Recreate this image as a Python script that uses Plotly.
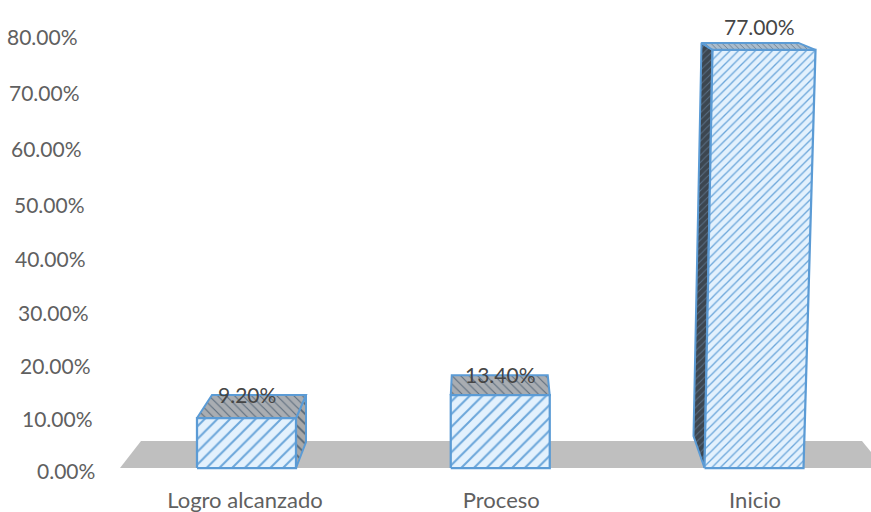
import plotly.graph_objects as go

# ---- data ----
categories = ["Logro alcanzado", "Proceso", "Inicio"]
values = [9.2, 13.4, 77.0]
y_ticks = [0, 10, 20, 30, 40, 50, 60, 70, 80]
y_tick_labels = ["0.00%", "10.00%", "20.00%", "30.00%", "40.00%", "50.00%", "60.00%", "70.00%", "80.00%"]

# ---- drawing style (pixels of the 871x512 canvas) ----
W, H = 871, 512
FONT = "Lato"
PX_PER_UNIT = 5.43
Y0_PX = 468
MARGIN_B = 27
STEP_PX = 253.75
X0_PX = 246.5
HALF_W = 49.5
# 3-D look: per bar, in pixels
top_left_tilt = [0, 0, 8]
top_right_tilt = [0, 0, 12]
back_left = [15, 1, -11]
back_right = [10, -2, -17]
back_up = [23, 20, 7]
side_drop = [26, 0, 32]
tick_right_px = [97, 95, 93, 91, 88, 87, 84, 82, 80]
tick_center_px = [470, 418, 365, 312, 258, 204, 148, 93, 37]
x_label_shift = [-0.006, 0.004, 0.004]
label_up = [24, 21, 23]
label_dx = [0, 0, 5]


def dx(px):
    return px / STEP_PX


def dy(px):
    return px / PX_PER_UNIT


EDGE = "#5b9bd5"
fig = go.Figure()

# floor
floor_h = dy(Y0_PX - 441)
floor_x = [dx(120 - X0_PX), dx(141 - X0_PX), dx(862 - X0_PX), dx(884 - X0_PX)]
floor_y = [0, floor_h, floor_h, 0]
fig.add_trace(go.Scatter(x=floor_x, y=floor_y, fill="toself", mode="none", fillcolor="#bfbfbf",
                         hoverinfo="skip", showlegend=False))


def poly(xs, ys, bg, fg, shape, size, sol, name, lw=2):
    fig.add_trace(go.Scatter(
        x=xs + xs[:1], y=ys + ys[:1], fill="toself", mode="lines",
        line=dict(color=EDGE, width=lw), fillcolor=bg,
        fillpattern=dict(shape=shape, bgcolor=bg, fgcolor=fg, size=size, solidity=sol, fgopacity=1),
        name=name, showlegend=False, hoverinfo="skip"))


for i, (cat, v) in enumerate(zip(categories, values)):
    L, R = i - dx(HALF_W), i + dx(HALF_W)
    tl, tr = L + dx(top_left_tilt[i]), R + dx(top_right_tilt[i])
    bl, br = tl + dx(back_left[i]), tr + dx(back_right[i])
    yb = v + dy(back_up[i])
    if i == 2:  # side on the left
        poly([L, tl, bl, L + dx(-11)], [0, v, yb, dy(side_drop[i])],
             "#3c4650", "#5a6f85", "/", 5, 0.2, cat + " lado", 2)
    elif i == 0:  # side on the right
        poly([R, tr, br, br], [0, v, yb, dy(side_drop[i])],
             "#a8a8a8", "#566878", "\\", 7, 0.25, cat + " lado", 2)
    poly([tl, tr, br, bl], [v, v, yb, yb],
         "#a9adb2" if i < 2 else "#a9bccd", "#5d6d7e", "\\", 6 if i < 2 else 4, 0.18, cat + " techo", 2)
    poly([L, R, tr, tl], [0, 0, v, v],
         "#e3f1fd", "#6ba6da", "/", 9 if i < 2 else 6, 0.22, cat, 2.25)

# data labels
for i, v in enumerate(values):
    fig.add_annotation(x=i + dx(label_dx[i]), y=v, yshift=label_up[i], text=f"{v:.2f}%", showarrow=False,
                       font=dict(family=FONT, size=21, color="#454545"), xanchor="center", yanchor="middle")

# value axis labels (they follow the 3-D wall, so each has its own offset)
for lab, r, c in zip(y_tick_labels, tick_right_px, tick_center_px):
    fig.add_annotation(xref="paper", yref="paper", x=r / W, y=1 - c / (H - MARGIN_B), text=lab, showarrow=False,
                       font=dict(family=FONT, size=21, color="#606060"), xanchor="right", yanchor="middle")

fig.update_layout(
    width=W, height=H, margin=dict(l=0, r=0, t=0, b=MARGIN_B),
    paper_bgcolor="white", plot_bgcolor="white", showlegend=False, font=dict(family=FONT),
    xaxis=dict(range=[dx(-X0_PX), dx(W - X0_PX)], tickmode="array",
               tickvals=[i + s for i, s in enumerate(x_label_shift)], ticktext=categories,
               tickfont=dict(family=FONT, size=22, color="#606060"), ticklen=0, ticks="",
               showgrid=False, zeroline=False, showline=False),
    yaxis=dict(range=[dy(Y0_PX - (H - MARGIN_B)), dy(Y0_PX)], tickmode="array", tickvals=y_ticks,
               showticklabels=False, ticks="", showgrid=False, zeroline=False, showline=False),
)

fig.write_html("out.html", config={"displayModeBar": False}, post_script="document.body.style.margin='0';")
